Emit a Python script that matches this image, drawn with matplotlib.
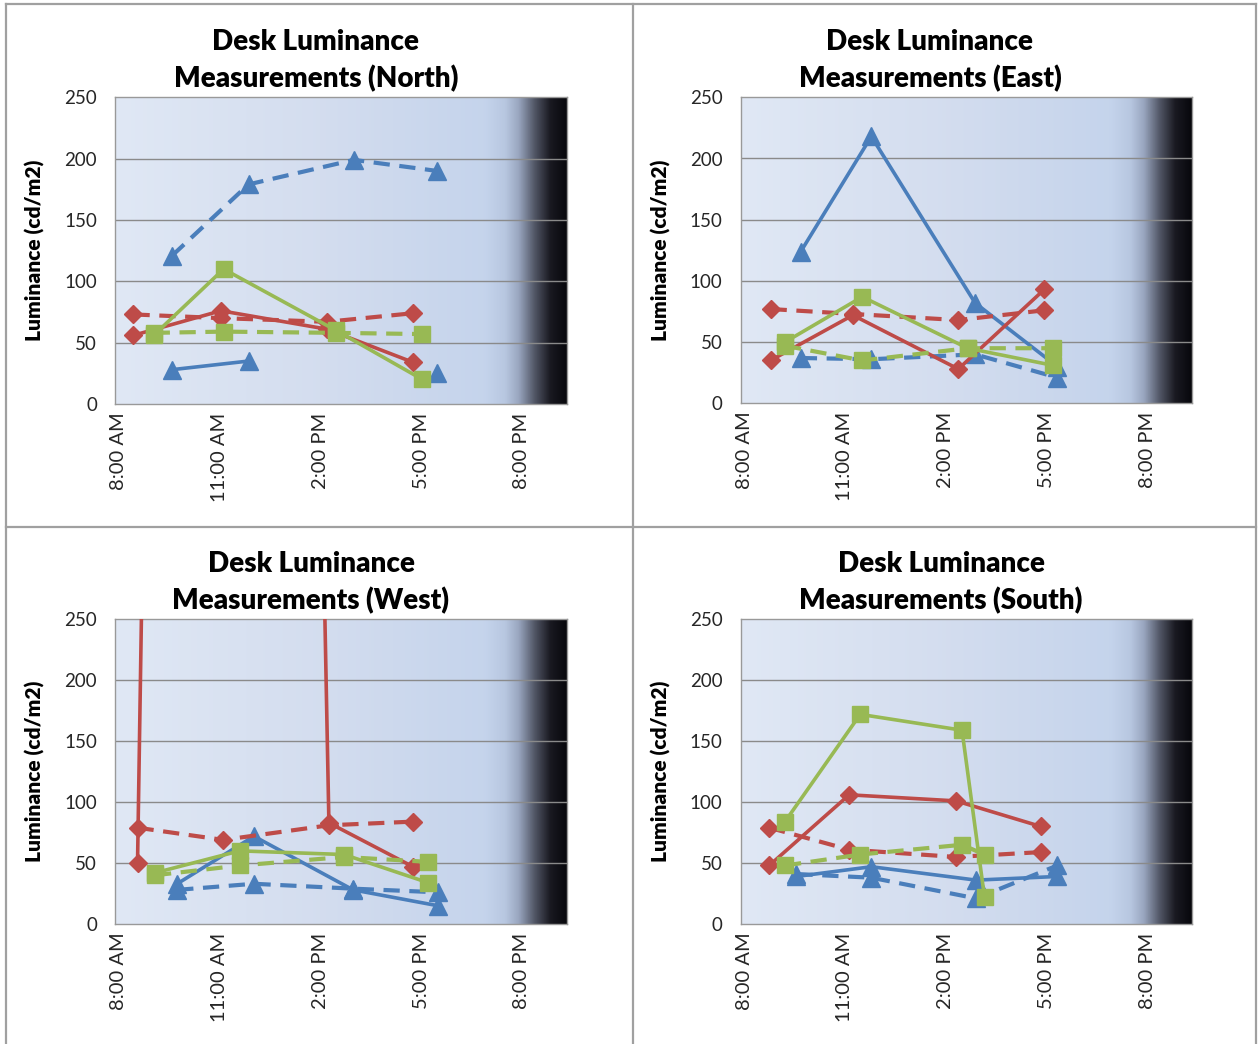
import numpy as np
import matplotlib
matplotlib.use("Agg")
import matplotlib.pyplot as plt
from matplotlib.colors import LinearSegmentedColormap
from matplotlib.lines import Line2D

plt.rcParams['font.family'] = ['Lato', 'DejaVu Sans']

nan = np.nan

# ---------------- data (hours of day, luminance cd/m2) ----------------
n_blue_t = [9.6, 11.87, 15.0, 17.47]
n_blue_solid = [28, 35, nan, 25]
n_blue_dash = [121, 179, 199, 190]
n_red_t = [8.45, 11.05, 14.2, 16.76]
n_red_solid = [56, 76, 61, 34]
n_red_dash = [73, 70, 67, 74]
n_green_t = [9.05, 11.13, 14.47, 17.04]
n_green_solid = [56, 110, 60, 20]
n_green_dash = [58, 59, 58, 57]

e_blue_t = [9.69, 11.79, 14.88, 17.33]
e_blue_solid = [124, 218, 82, 30]
e_blue_dash = [37, 36, 40, 21]
e_red_t = [8.79, 11.24, 14.38, 16.94]
e_red_solid = [35, 72, 28, 93]
e_red_dash = [77, 73, 68, 76]
e_green_t = [9.22, 11.52, 14.66, 17.2]
e_green_solid = [50, 87, 45, 31]
e_green_dash = [47, 35, 45, 45]

w_blue_t = [9.75, 12.03, 14.98, 17.5]
w_blue_solid = [33, 72, 28, 15]
w_blue_dash = [28, 33, 29, 26]
w_red_t = [8.57, 11.12, 14.26, 16.76]
w_red_solid = [50, 4500, 83, 47]
w_red_dash = [79, 69, 81, 84]
w_green_t = [9.09, 11.61, 14.71, 17.2]
w_green_solid = [42, 60, 57, 34]
w_green_dash = [40, 48, 55, 51]

s_blue_t = [9.56, 11.79, 14.91, 17.33]
s_blue_solid = [39, 47, 36, 39]
s_blue_dash = [41, 38, 21, 48]
s_red_t = [8.75, 11.13, 14.31, 16.84]
s_red_solid = [48, 106, 101, 80]
s_red_dash = [79, 61, 55, 59]
s_green_t = [9.22, 11.46, 14.49, 15.16]
s_green_solid = [84, 172, 159, 22]
s_green_dash = [48, 57, 65, 57]

panel_titles = ["Desk Luminance\nMeasurements (North)",
                "Desk Luminance\nMeasurements (East)",
                "Desk Luminance\nMeasurements (West)",
                "Desk Luminance\nMeasurements (South)"]
x_ticks = [8, 11, 14, 17, 20]
x_ticklabels = ["8:00 AM", "11:00 AM", "2:00 PM", "5:00 PM", "8:00 PM"]
y_ticks = [0, 50, 100, 150, 200, 250]
y_label = "Luminance (cd/m2)"

panels = [
    dict(blue_t=n_blue_t, blue_s=n_blue_solid, blue_d=n_blue_dash,
         red_t=n_red_t, red_s=n_red_solid, red_d=n_red_dash,
         green_t=n_green_t, green_s=n_green_solid, green_d=n_green_dash),
    dict(blue_t=e_blue_t, blue_s=e_blue_solid, blue_d=e_blue_dash,
         red_t=e_red_t, red_s=e_red_solid, red_d=e_red_dash,
         green_t=e_green_t, green_s=e_green_solid, green_d=e_green_dash),
    dict(blue_t=w_blue_t, blue_s=w_blue_solid, blue_d=w_blue_dash,
         red_t=w_red_t, red_s=w_red_solid, red_d=w_red_dash,
         green_t=w_green_t, green_s=w_green_solid, green_d=w_green_dash),
    dict(blue_t=s_blue_t, blue_s=s_blue_solid, blue_d=s_blue_dash,
         red_t=s_red_t, red_s=s_red_solid, red_d=s_red_dash,
         green_t=s_green_t, green_s=s_green_solid, green_d=s_green_dash),
]

# ---------------- styling ----------------
W, H = 1258, 1044
BLUE = '#4A7EBB'
RED = '#BE4B48'
GREEN = '#98B954'
XMIN, XMAX = 7.9, 21.33

fig = plt.figure(figsize=(W / 100, H / 100), dpi=100)
fig.patch.set_facecolor('white')

def px_rect(l, t, r, b):
    return [l / W, 1 - b / H, (r - l) / W, (b - t) / H]

axes_rects = [px_rect(115, 97.3, 566.7, 404),
              px_rect(740.7, 97.3, 1191.7, 403.3),
              px_rect(115, 619.3, 566.7, 924),
              px_rect(740.7, 619.3, 1191.7, 924)]
title_pos = [(316, 42, 79), (930, 42, 79), (311, 564, 601), (941, 564, 601)]

cmap = LinearSegmentedColormap.from_list('bg', [
    (0.00, (0.878, 0.910, 0.960)),
    (0.45, (0.830, 0.867, 0.937)),
    (0.82, (0.772, 0.831, 0.925)),
    (0.865, (0.72, 0.78, 0.88)),
    (0.895, (0.60, 0.65, 0.75)),
    (0.93, (0.32, 0.34, 0.40)),
    (0.965, (0.10, 0.10, 0.13)),
    (1.00, (0.03, 0.03, 0.05)),
])
grad = np.linspace(0, 1, 512).reshape(1, -1)

def fmt_lines(ax, t, ys, color, marker, ms, dashed):
    kw = dict(color=color, lw=3.0, marker=marker, markersize=ms,
              markeredgecolor=color, markerfacecolor=color, zorder=3,
              solid_capstyle='butt', dash_capstyle='butt')
    if dashed:
        ax.plot(t, ys, linestyle=(0, (3.9, 2.3)), **kw)
    else:
        ax.plot(t, ys, linestyle='-', lw=2.6, **{k: v for k, v in kw.items() if k != 'lw'})

for i, (rect, p) in enumerate(zip(axes_rects, panels)):
    ax = fig.add_axes(rect)
    ax.imshow(grad, extent=[XMIN, XMAX, 0, 250], aspect='auto', cmap=cmap,
              zorder=0, interpolation='bicubic')
    ax.set_xlim(XMIN, XMAX)
    ax.set_ylim(0, 250)
    for g in [50, 100, 150, 200]:
        ax.axhline(g, color='#8a8a8a', lw=1.0, zorder=1)
    fmt_lines(ax, p['blue_t'], p['blue_s'], BLUE, '^', 12.5, False)
    fmt_lines(ax, p['blue_t'], p['blue_d'], BLUE, '^', 12.5, True)
    fmt_lines(ax, p['red_t'], p['red_s'], RED, 'D', 9, False)
    fmt_lines(ax, p['red_t'], p['red_d'], RED, 'D', 9, True)
    fmt_lines(ax, p['green_t'], p['green_s'], GREEN, 's', 11.5, False)
    fmt_lines(ax, p['green_t'], p['green_d'], GREEN, 's', 11.5, True)

    ax.set_xticks(x_ticks)
    ax.set_xticklabels(x_ticklabels, rotation=90, fontsize=14.5, color='#262626')
    ax.set_yticks(y_ticks)
    ax.set_yticklabels([str(v) for v in y_ticks], fontsize=13.5, color='#262626')
    ax.tick_params(axis='both', length=0)
    ax.tick_params(axis='y', pad=13)
    ax.tick_params(axis='x', pad=6)
    for sp in ax.spines.values():
        sp.set_color('#999999')
        sp.set_linewidth(1.0)
    ax.set_ylabel(y_label, fontsize=15, fontweight='heavy', color='black')
    ax.yaxis.set_label_coords(-0.155, 0.5)

    tx, ty1, ty2 = title_pos[i]
    l1, l2 = panel_titles[i].split('\n')
    fig.text(tx / W, 1 - ty1 / H, l1, ha='center', va='center',
             fontsize=20, fontweight='heavy', color='black')
    fig.text(tx / W, 1 - ty2 / H, l2, ha='center', va='center',
             fontsize=20, fontweight='heavy', color='black')

# panel borders
def hline(y, x0, x1):
    fig.add_artist(Line2D([x0 / W, x1 / W], [1 - y / H, 1 - y / H],
                          color='#a0a0a0', lw=1.6, transform=fig.transFigure))

def vline(x, y0, y1):
    fig.add_artist(Line2D([x / W, x / W], [1 - y0 / H, 1 - y1 / H],
                          color='#a0a0a0', lw=1.6, transform=fig.transFigure))

hline(4, 6, 1256)
hline(526.5, 6, 1256)
vline(6, 4, 1044)
vline(632.5, 4, 1044)
vline(1256, 4, 1044)

fig.savefig('out.png', dpi=100, facecolor='white')
